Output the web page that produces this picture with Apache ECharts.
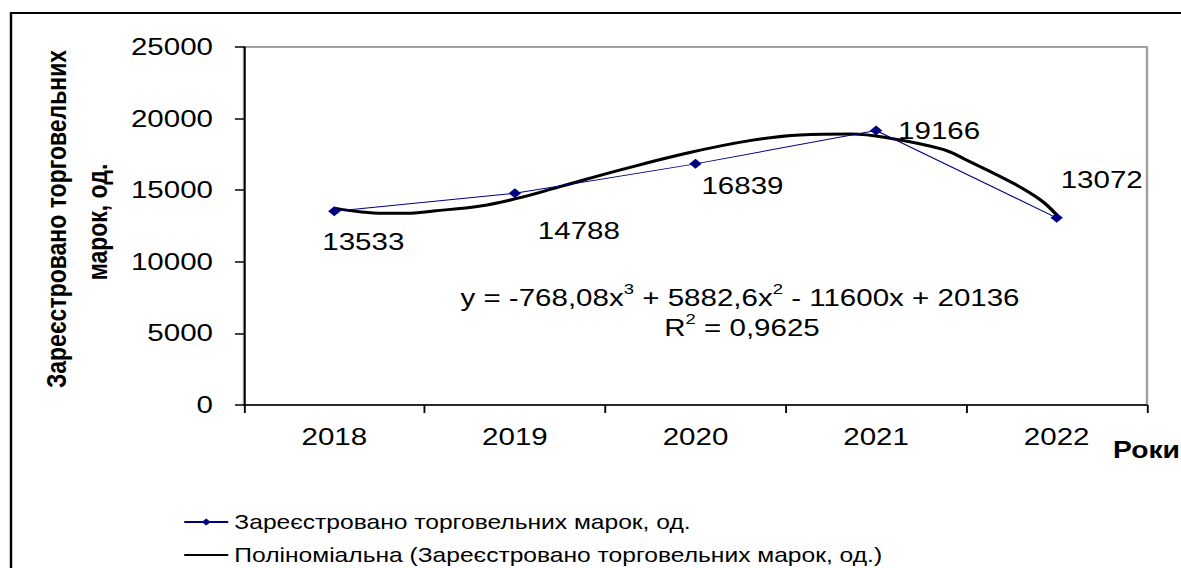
<!DOCTYPE html>
<html>
<head>
<meta charset="utf-8">
<script src="https://cdn.jsdelivr.net/npm/echarts@6/dist/echarts.min.js"></script>
<style>
html,body{margin:0;padding:0;background:#fff;overflow:hidden;}
#wrap{width:1181px;height:568px;overflow:hidden;}
#chart{width:960px;height:568px;transform:scaleX(1.2302);transform-origin:0 0;}
</style>
</head>
<body>
<div id="wrap"><div id="chart"></div></div>
<script>
// ---- data ----
const years = ['2018', '2019', '2020', '2021', '2022'];
const registered = [13533, 14788, 16839, 19166, 13072];
// polynomial trend line (x in category units, 1 = 2018)
const trendX = [1.0, 1.14, 1.27, 1.40, 1.55, 1.81, 2.0, 2.25, 2.58, 2.95, 3.30, 3.58, 3.86, 4.08, 4.37, 4.50, 4.76, 4.91, 5.0];
const trendY = [13750, 13500, 13390, 13390, 13550, 13900, 14390, 15250, 16400, 17580, 18460, 18850, 18920, 18620, 17850, 17110, 15480, 14320, 13270];
const yTicks = [0, 5000, 10000, 15000, 20000, 25000];
const seriesName = 'Зареєстровано торговельних марок, од.';
const trendName = 'Поліноміальна (Зареєстровано торговельних марок, од.)';
const yTitle = ['Зареєстровано торговельних', 'марок, од.'];
const xTitle = 'Роки';
const equation = ['-768,08', '5882,6', '11600', '20136'];
const rSquared = '0,9625';

// ---- layout (the page is stretched horizontally by S, like the source image) ----
const S = 1181 / 960;
const X = v => v / S;          // reference-pixel x -> drawing x
const W = 960;
const FONT = "'Liberation Sans', Arial, sans-serif";
const labelOffsets = [[29, 31], [64, 38], [47, 22], [63, 0], [45, -38]];

const chart = echarts.init(document.getElementById('chart'), null, {renderer: 'svg', width: W, height: 568});

const legendBase = {
  orient: 'vertical',
  left: X(183),
  padding: 0,
  itemWidth: X(44), itemHeight: 9, itemGap: X(6),
  textStyle: {fontFamily: FONT, fontSize: 20, lineHeight: 20, color: '#000'}
};

const option = {
  animation: false,
  backgroundColor: '#fff',
  textStyle: {fontFamily: FONT},
  grid: {
    left: X(244), top: 47, right: W - X(1147), bottom: 163,
    show: true, borderColor: '#a0a0a0', borderWidth: 2, backgroundColor: 'transparent'
  },
  legend: [
    Object.assign({}, legendBase, {top: 512, data: [{name: seriesName}]}),
    Object.assign({}, legendBase, {top: 545, data: [{name: trendName, itemStyle: {opacity: 0}}]})
  ],
  xAxis: [{
    type: 'category',
    data: years,
    boundaryGap: true,
    axisLine: {lineStyle: {color: '#000', width: 1.5}},
    axisTick: {show: true, length: 8, lineStyle: {color: '#000', width: 1.5}},
    axisLabel: {fontFamily: FONT, fontSize: 24, color: '#000', margin: 20},
    splitLine: {show: false}
  }, {
    type: 'value',
    min: 0.5, max: 5.5,
    show: false,
    splitLine: {show: false}
  }],
  yAxis: {
    type: 'value',
    min: yTicks[0], max: yTicks[yTicks.length - 1], interval: yTicks[1] - yTicks[0],
    axisLine: {show: true, lineStyle: {color: '#000', width: 1.5}},
    axisTick: {show: true, length: X(9), lineStyle: {color: '#000', width: 1.5}},
    axisLabel: {fontFamily: FONT, fontSize: 24, color: '#000', margin: X(31), formatter: v => String(v)},
    splitLine: {show: false}
  },
  series: [{
    name: trendName,
    type: 'line',
    xAxisIndex: 1,
    data: trendX.map((x, i) => [x, trendY[i]]),
    smooth: 0.4,
    symbol: 'none',
    lineStyle: {color: '#000', width: 3},
    itemStyle: {color: '#000'},
    z: 3
  }, {
    name: seriesName,
    type: 'line',
    xAxisIndex: 0,
    data: registered.map((v, i) => ({
      value: v,
      label: {offset: [X(labelOffsets[i][0]), labelOffsets[i][1]]}
    })),
    symbol: 'diamond',
    symbolSize: 10,
    lineStyle: {color: '#000080', width: 1},
    itemStyle: {color: '#000080'},
    label: {
      show: true,
      position: 'inside',
      align: 'center',
      verticalAlign: 'middle',
      fontFamily: FONT, fontSize: 24, color: '#000'
    },
    z: 4
  }],
  graphic: [{
    type: 'rect',
    shape: {x: X(11), y: 13, width: 1400, height: 800},
    style: {fill: 'none', stroke: '#000', lineWidth: 2},
    silent: true
  }, {
    type: 'text',
    x: X(56), y: 219, rotation: Math.PI / 2,
    style: {text: yTitle[0], font: "bold 23px " + FONT,
      fill: '#000', align: 'center', verticalAlign: 'middle'}
  }, {
    type: 'text',
    x: X(97), y: 222, rotation: Math.PI / 2,
    style: {text: yTitle[1], font: "bold 23px " + FONT,
      fill: '#000', align: 'center', verticalAlign: 'middle'}
  }, {
    type: 'text',
    x: X(1113), y: 450,
    style: {text: xTitle, font: "bold 23px " + FONT, fill: '#000', align: 'left', verticalAlign: 'middle'}
  }, {
    type: 'text',
    x: X(740), y: 296,
    style: {
      text: '{n|y = ' + equation[0] + 'x}{s|3}{n| + ' + equation[1] + 'x}{s|2}{n| - ' + equation[2] + 'x + ' + equation[3] + '}',
      align: 'center', verticalAlign: 'middle',
      rich: {
        n: {fontFamily: FONT, fontSize: 24, color: '#000', lineHeight: 28, verticalAlign: 'bottom'},
        s: {fontFamily: FONT, fontSize: 15, color: '#000', lineHeight: 28, verticalAlign: 'top'}
      }
    }
  }, {
    type: 'text',
    x: X(742), y: 326,
    style: {
      text: '{n|R}{s|2}{n| = ' + rSquared + '}',
      align: 'center', verticalAlign: 'middle',
      rich: {
        n: {fontFamily: FONT, fontSize: 24, color: '#000', lineHeight: 28, verticalAlign: 'bottom'},
        s: {fontFamily: FONT, fontSize: 15, color: '#000', lineHeight: 28, verticalAlign: 'top'}
      }
    }
  }]
};
chart.setOption(option);
</script>
</body>
</html>
